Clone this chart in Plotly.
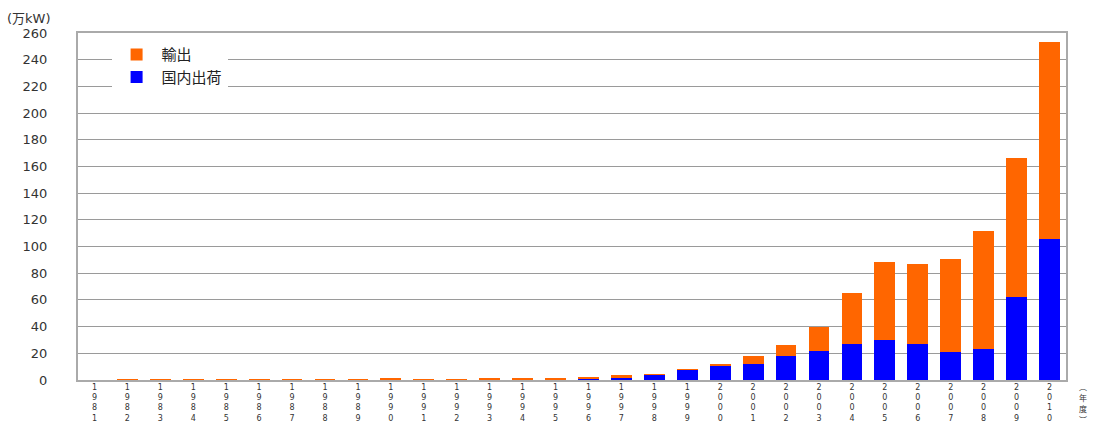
import plotly.graph_objects as go

years = [str(y) for y in range(1981, 2011)]
domestic = [0, 0.1, 0.1, 0.1, 0.1, 0.1, 0.1, 0.1, 0.1, 0.1,
            0.4, 0.4, 0.2, 0.5, 0.6, 1.2, 2.2, 3.9, 7.9, 11.0,
            11.7, 18.0, 21.7, 26.7, 30.0, 26.7, 20.7, 23.2, 62.4, 105.6]
export = [0, 0.4, 0.4, 0.4, 0.4, 0.4, 0.4, 0.4, 0.4, 0.9,
          0.3, 0.3, 0.8, 0.4, 0.5, 0.9, 1.3, 0.2, 0.2, 1.0,
          6.5, 8.2, 18.3, 38.7, 58.1, 59.9, 69.9, 88.4, 104.1, 147.8]
tick_labels = ["<br>".join(list(y)) for y in years]
y_ticks = list(range(0, 261, 20))
x_unit_chars = ["︵", "年", "度", "︶"]

fig = go.Figure()
fig.add_trace(go.Bar(x=years, y=domestic, name="国内出荷", marker_color="#0000FF",
                     marker_line_width=0))
fig.add_trace(go.Bar(x=years, y=export, name="輸出", marker_color="#FF6600",
                     marker_line_width=0))

fig.update_layout(
    width=1095, height=426,
    margin=dict(l=78, r=29, t=33, b=46),
    barmode="stack", bargap=0.37,
    plot_bgcolor="white", paper_bgcolor="white",
    font=dict(family="DejaVu Sans, Noto Sans CJK JP", color="#333333"),
    showlegend=True,
    legend=dict(x=0.034, y=0.985, xanchor="left", yanchor="top",
                traceorder="reversed", bgcolor="white",
                font=dict(size=15, family="Noto Sans CJK JP", color="#222222"),
                itemsizing="constant", tracegroupgap=0, itemwidth=40),
    xaxis=dict(tickmode="array", tickvals=years, ticktext=tick_labels,
               tickangle=0, tickfont=dict(size=8, color="#333333"),
               ticklabelstandoff=-2,
               showline=True, linecolor="#AAAAAA", linewidth=2, mirror=True,
               showgrid=False, ticks="", automargin=False),
    yaxis=dict(range=[0, 260], tickvals=y_ticks, ticks="",
               tickfont=dict(size=13, color="#333333"), ticklabelstandoff=26,
               showline=True, linecolor="#AAAAAA", linewidth=2, mirror=True,
               showgrid=True, gridcolor="#9A9A9A", gridwidth=1, zeroline=False,
               automargin=False),
)

fig.add_annotation(text="(万kW)", xref="paper", yref="paper", x=-0.074, y=1.043,
                   xanchor="left", yanchor="middle", showarrow=False,
                   font=dict(size=13, family="DejaVu Sans, Noto Sans CJK JP", color="#333333"))
for i, ch in enumerate(x_unit_chars):
    fig.add_annotation(text=ch, xref="paper", yref="paper", x=1.017,
                       y=-0.02 - i * 0.031, xanchor="center", yanchor="middle",
                       showarrow=False, borderpad=0,
                       font=dict(size=8, family="Noto Sans CJK JP", color="#333333"))

fig.write_html("out.html")
